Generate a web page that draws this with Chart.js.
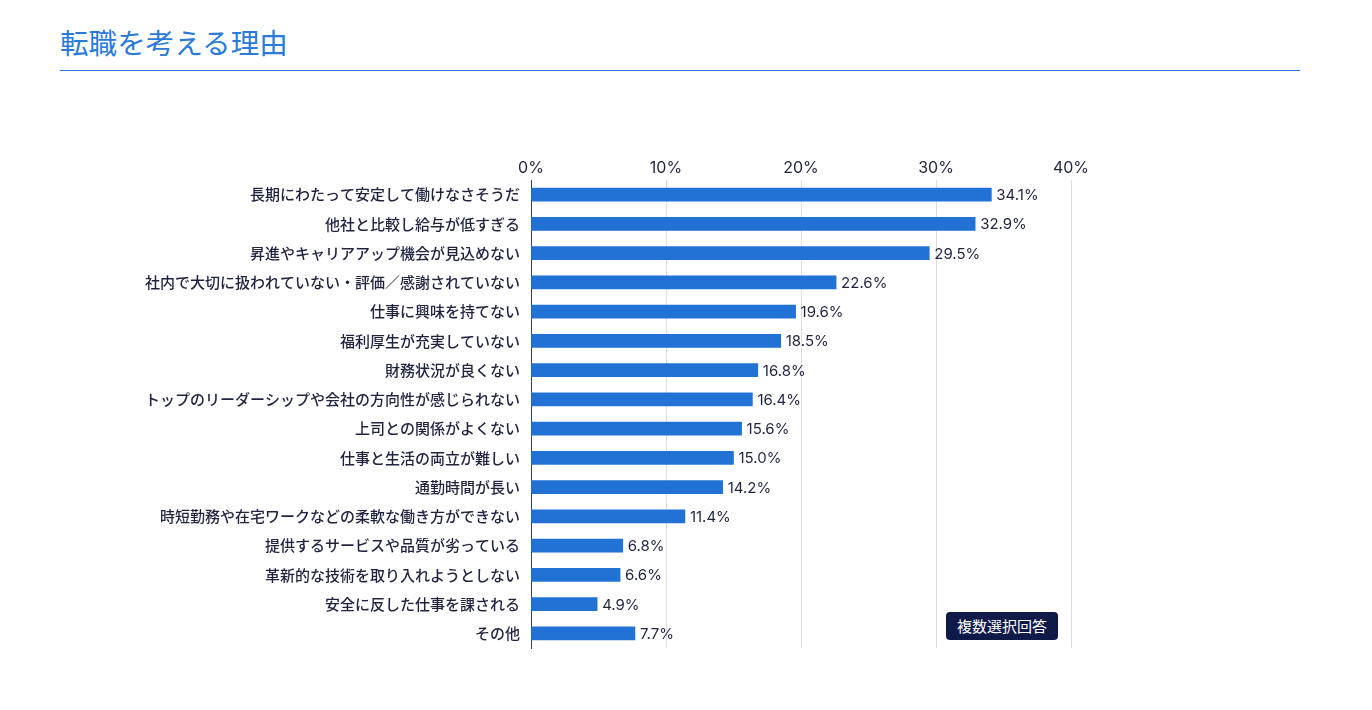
<!DOCTYPE html>
<html lang="ja">
<head>
<meta charset="utf-8">
<script src="https://cdn.jsdelivr.net/npm/chart.js@4.4.1/dist/chart.umd.min.js"></script>
<style>
  body { margin: 0; width: 1372px; height: 710px; background: #fff; position: relative; overflow: hidden;
         font-family: "Noto Sans CJK JP", sans-serif; }
  #title { position: absolute; left: 60px; top: 22px; font-size: 28.6px; line-height: 40px; color: #2a7ad9; }
  #rule { position: absolute; left: 60px; top: 70px; width: 1240px; height: 1px; background: #2b7de0; }
  #chart { position: absolute; left: 0; top: 150px; }
  #badge { position: absolute; left: 946px; top: 612px; width: 112px; height: 28px; background: #101a48;
           color: #fff; border-radius: 4px; font-size: 15px; line-height: 28px; text-align: center; }
</style>
</head>
<body>
<div id="title">転職を考える理由</div>
<div id="rule"></div>
<canvas id="chart" width="1372" height="510"></canvas>
<div id="badge">複数選択回答</div>
<script>
// categories and values (%)
const reasons = [
    "長期にわたって安定して働けなさそうだ",
    "他社と比較し給与が低すぎる",
    "昇進やキャリアアップ機会が見込めない",
    "社内で大切に扱われていない・評価／感謝されていない",
    "仕事に興味を持てない",
    "福利厚生が充実していない",
    "財務状況が良くない",
    "トップのリーダーシップや会社の方向性が感じられない",
    "上司との関係がよくない",
    "仕事と生活の両立が難しい",
    "通勤時間が長い",
    "時短勤務や在宅ワークなどの柔軟な働き方ができない",
    "提供するサービスや品質が劣っている",
    "革新的な技術を取り入れようとしない",
    "安全に反した仕事を課される",
    "その他"
];
const rates = [34.1, 32.9, 29.5, 22.6, 19.6, 18.5, 16.8, 16.4, 15.6, 15.0, 14.2, 11.4, 6.8, 6.6, 4.9, 7.7];
const tickValues = [0, 10, 20, 30, 40];

const textColor = "#1f2340";
const barColor = "#2272d6";

// draw value labels to the right of each bar
const valueLabels = {
    id: "valueLabels",
    afterDatasetsDraw(chart) {
        let ctx = chart.ctx;
        let meta = chart.getDatasetMeta(0);
        ctx.save();
        ctx.font = "15px Inter, 'Noto Sans CJK JP', sans-serif";
        ctx.fillStyle = textColor;
        ctx.textAlign = "left";
        ctx.textBaseline = "middle";
        meta.data.forEach((bar, i) => {
            ctx.fillText(rates[i].toFixed(1) + "%", bar.x + 5, bar.y + 1);
        });
        ctx.restore();
    }
};

let ctx = document.getElementById("chart");

new Chart(ctx, {
    type: "bar",
    data: {
        labels: reasons,
        datasets: [{
            data: rates,
            backgroundColor: barColor,
            barThickness: 13
        }]
    },
    options: {
        indexAxis: "y",
        responsive: false,
        animation: false,
        layout: { padding: { top: 0, right: 301, bottom: 0, left: 0 } },
        plugins: {
            legend: { display: false },
            tooltip: { enabled: false }
        },
        scales: {
            x: {
                position: "top",
                min: 0,
                max: 40,
                afterBuildTicks: axis => {
                    axis.ticks = tickValues.map(v => ({ value: v }));
                },
                afterFit: axis => { axis.height = 30; },
                ticks: {
                    callback: v => v + "%",
                    color: textColor,
                    padding: 2,
                    font: { family: "Inter, 'Noto Sans CJK JP', sans-serif", size: 16 }
                },
                grid: { color: "#dddddd", drawTicks: false },
                border: { display: false }
            },
            y: {
                afterFit: axis => { axis.width = 531; },
                ticks: {
                    color: textColor,
                    padding: 3,
                    font: { family: "'Noto Sans CJK JP', sans-serif", size: 15, weight: "500" }
                },
                grid: { display: false },
                border: { display: true, color: "#3a3f55", width: 1 }
            }
        }
    },
    plugins: [valueLabels]
});
</script>
</body>
</html>
